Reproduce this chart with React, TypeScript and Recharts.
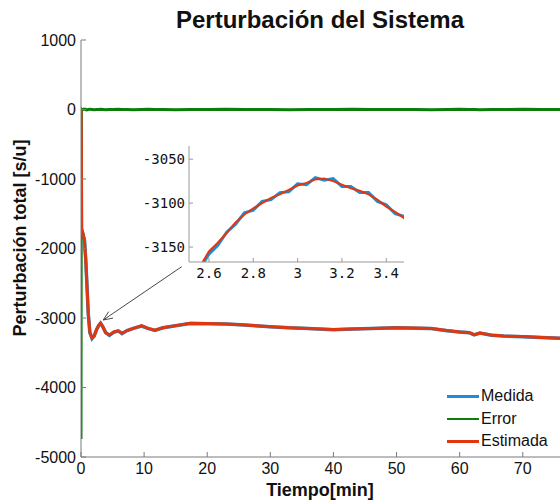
import React, { useLayoutEffect } from "react";
import { LineChart, Line, XAxis, YAxis, CartesianGrid, ReferenceLine } from "recharts";

// main chart: time [min] and series values
const tiempo = [0, 0.05, 0.12, 0.3, 0.55, 0.75, 0.9, 1.15, 1.4, 1.75, 2.1, 2.5, 2.8, 3.1, 3.5, 3.9, 4.5, 5.2, 5.9, 6.5, 7.3, 8.3, 9.6, 10.6, 11.7, 13, 15, 17.3, 20, 23, 26, 30, 33, 36, 40, 43, 46, 50, 53, 55.5, 58, 60, 61.5, 62.3, 63.2, 65, 67, 70, 73, 75.9];
const medida = [0, -1720, -1730, -1790, -1880, -2160, -2440, -2940, -3210, -3295, -3255, -3160, -3110, -3075, -3135, -3210, -3250, -3205, -3185, -3225, -3180, -3150, -3115, -3150, -3178, -3140, -3112, -3078, -3082, -3085, -3102, -3125, -3142, -3150, -3168, -3160, -3152, -3140, -3147, -3152, -3182, -3200, -3212, -3242, -3217, -3247, -3260, -3268, -3282, -3292];
const errorSerie = [-4740, 0, -10, 0, 5, 0, -5, 0, 5, 0, -5, 0, 0, 5, 0, -5, 0, 0, 5, 0, 0, -5, 0, 5, 0, 0, -5, 0, 0, 5, 0, 0, -5, 0, 0, 5, 0, 0, 0, -5, 0, 5, 0, 0, -5, 0, 0, 5, 0, 0];
const estimada = [0, -450, -1720, -1780, -1880, -2150, -2450, -2930, -3200, -3290, -3260, -3160, -3105, -3072, -3130, -3210, -3245, -3200, -3185, -3220, -3180, -3150, -3110, -3150, -3175, -3140, -3110, -3075, -3080, -3085, -3100, -3125, -3140, -3150, -3165, -3160, -3150, -3140, -3145, -3150, -3180, -3200, -3210, -3240, -3215, -3245, -3260, -3265, -3280, -3290];

const xTicks = [0, 10, 20, 30, 40, 50, 60, 70];
const yTicks = [1000, 0, -1000, -2000, -3000, -4000, -5000];

// zoomed inset around the first peak
const insetTiempo = [2.5, 2.56, 2.6, 2.64, 2.68, 2.72, 2.76, 2.8, 2.84, 2.88, 2.92, 2.96, 3.0, 3.04, 3.08, 3.12, 3.16, 3.2, 3.24, 3.28, 3.32, 3.36, 3.4, 3.44, 3.48, 3.5];
const insetMedida = [-3185, -3174, -3158, -3148, -3133, -3124, -3111, -3108, -3098, -3096, -3088, -3087, -3078, -3079, -3071, -3074, -3072, -3081, -3081, -3088, -3088, -3098, -3102, -3112, -3115, -3122];
const insetEstimada = [-3182, -3172, -3155, -3145, -3134, -3122, -3113, -3106, -3100, -3094, -3090, -3085, -3080, -3077, -3073, -3072, -3075, -3079, -3083, -3086, -3090, -3096, -3104, -3110, -3117, -3120];
const insetXTicks = [2.6, 2.8, 3, 3.2, 3.4];
const insetYTicks = [-3050, -3100, -3150];

const series = [
  { key: "medida", name: "Medida", color: "#1a8fd6", width: 3.5 },
  { key: "error", name: "Error", color: "#0b7d0b", width: 3 },
  { key: "estimada", name: "Estimada", color: "#e2360f", width: 3 },
];

const data = tiempo.map((t, i) => ({ t, medida: medida[i], error: errorSerie[i], estimada: estimada[i] }));
const insetData = insetTiempo.map((t, i) => ({ t, medida: insetMedida[i], estimada: insetEstimada[i] }));

const font = "'Liberation Sans', Arial, sans-serif";
const mono = "'DejaVu Sans Mono', monospace";
const axisColor = "#7a7a7a";

// arrow from inset corner to the peak
const arrowFrom = { x: 15.95, y: -2262 };
const arrowTo = { x: 3.53, y: -3029 };

const Arrow = (props: any) => {
  const { x1, y1, x2, y2 } = props;
  const a = Math.atan2(y2 - y1, x2 - x1);
  const len = 10;
  const spread = 0.4;
  const p1 = { x: x2 - len * Math.cos(a - spread), y: y2 - len * Math.sin(a - spread) };
  const p2 = { x: x2 - len * Math.cos(a + spread), y: y2 - len * Math.sin(a + spread) };
  return (
    <g stroke="#333" strokeWidth={0.9} fill="none">
      <line x1={x1} y1={y1} x2={x2} y2={y2} />
      <polyline points={`${p1.x},${p1.y} ${x2},${y2} ${p2.x},${p2.y}`} />
    </g>
  );
};

const App = () => {
  useLayoutEffect(() => {
    document.body.style.margin = "0";
  }, []);

  return (
    <div style={{ position: "relative", width: 560, height: 504, overflow: "hidden", background: "#fff", fontFamily: font }}>
      <div style={{ position: "absolute", left: 120, top: 6, width: 400, textAlign: "center", fontSize: 24, fontWeight: "bold", color: "#111", whiteSpace: "nowrap" }}>
        Perturbación del Sistema
      </div>

      <div style={{ position: "absolute", left: 0, top: 0 }}>
        <LineChart width={560} height={504} data={data} margin={{ top: 40, right: 0, bottom: 17, left: 11 }}>
          <XAxis
            dataKey="t"
            type="number"
            domain={[0, 75.9]}
            allowDataOverflow
            ticks={xTicks}
            height={30}
            tickSize={-5}
            tickMargin={11}
            stroke={axisColor}
            tick={{ fill: "#111", fontSize: 16, fontFamily: font }}
          />
          <XAxis
            xAxisId="top"
            orientation="top"
            type="number"
            domain={[0, 75.9]}
            ticks={xTicks}
            height={0}
            tick={false}
            tickSize={-5}
            stroke={axisColor}
          />
          <YAxis
            type="number"
            domain={[-5000, 1000]}
            allowDataOverflow
            ticks={yTicks}
            width={70}
            tickSize={-5}
            tickMargin={10}
            stroke={axisColor}
            tick={{ fill: "#111", fontSize: 16, fontFamily: font }}
          />
          {series.map((s) => (
            <Line
              key={s.key}
              type="linear"
              dataKey={s.key}
              name={s.name}
              stroke={s.color}
              strokeWidth={s.width}
              dot={false}
              isAnimationActive={false}
            />
          ))}
          <ReferenceLine segment={[arrowFrom, arrowTo]} ifOverflow="visible" shape={<Arrow />} />
        </LineChart>
      </div>

      <div style={{ position: "absolute", left: 130, top: 140 }}>
        <LineChart width={280} height={145} data={insetData} margin={{ top: 6, right: 6, bottom: 0, left: 0 }}>
          <CartesianGrid horizontal={false} vertical={false} fill="#fff" />
          <XAxis
            dataKey="t"
            type="number"
            domain={[2.51, 3.48]}
            allowDataOverflow
            ticks={insetXTicks}
            height={23}
            tickSize={-4}
            tickMargin={10}
            stroke="#999"
            tick={{ fill: "#111", fontSize: 14, fontFamily: mono }}
          />
          <XAxis xAxisId="top" orientation="top" type="number" domain={[2.51, 3.48]} ticks={insetXTicks} height={0} tick={false} tickSize={-4} stroke="#999" />
          <YAxis
            type="number"
            domain={[-3167, -3035]}
            allowDataOverflow
            ticks={insetYTicks}
            width={59}
            tickSize={-4}
            tickMargin={8}
            stroke="#999"
            tick={{ fill: "#111", fontSize: 14, fontFamily: mono }}
          />
          <YAxis yAxisId="right" orientation="right" type="number" domain={[-3167, -3035]} ticks={insetYTicks} width={0} tick={false} tickSize={-4} stroke="#999" />
          <Line type="linear" dataKey="medida" stroke="#1a8fd6" strokeWidth={3} dot={false} isAnimationActive={false} />
          <Line type="linear" dataKey="estimada" stroke="#e2360f" strokeWidth={2} dot={false} isAnimationActive={false} />
        </LineChart>
      </div>

      <div style={{ position: "absolute", left: 170, top: 480, width: 300, textAlign: "center", fontSize: 18, fontWeight: "bold", color: "#111" }}>
        Tiempo[min]
      </div>
      <div
        style={{
          position: "absolute",
          left: 20,
          top: 238,
          transform: "translate(-50%, -50%) rotate(-90deg)",
          fontSize: 18,
          fontWeight: "bold",
          color: "#111",
          whiteSpace: "nowrap",
        }}
      >
        Perturbación total [s/u]
      </div>

      <div style={{ position: "absolute", left: 447, top: 385 }}>
        {series.map((s) => (
          <div key={s.key} style={{ display: "flex", alignItems: "center", height: 22.5 }}>
            <span style={{ display: "inline-block", width: 32, height: 2.5, background: s.color, marginRight: 2 }} />
            <span style={{ fontSize: 16, color: "#111" }}>{s.name}</span>
          </div>
        ))}
      </div>
    </div>
  );
};

export default App;
